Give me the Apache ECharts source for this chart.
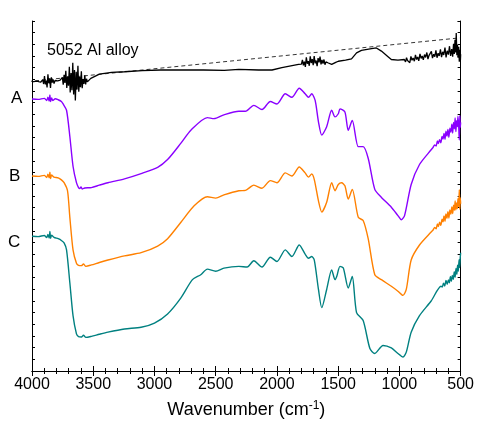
<!DOCTYPE html>
<html>
<head>
<meta charset="utf-8">
<script src="https://cdn.jsdelivr.net/npm/echarts@6/dist/echarts.min.js"></script>
<style>
  html, body { margin: 0; padding: 0; background: #fff; }
  #chart { width: 477px; height: 424px; }
</style>
</head>
<body>
<div id="chart"></div>
<script>
// 横轴刻度
const xTicks = [4000, 3500, 3000, 2500, 2000, 1500, 1000, 500];

// 5052 铝合金基底 (黑色)
const alloyData = [
  [4000, 82.6], [3960, 82.8], [3930, 82.5],
  [3912, 83.2], [3905, 82.0], [3898, 84.3], [3891, 81.9], [3884, 83.0], [3877, 81.0], [3870, 84.8],
  [3863, 82.2], [3856, 83.6], [3849, 80.9], [3842, 83.9], [3835, 82.4], [3828, 83.3], [3820, 82.1],
  [3812, 83.0], [3790, 82.9], [3770, 83.1],
  [3760, 82.6], [3752, 83.9], [3745, 81.8], [3738, 84.6], [3731, 82.3], [3724, 85.8], [3716, 80.9],
  [3709, 84.2], [3702, 81.5], [3695, 86.9], [3688, 79.6], [3681, 85.1], [3674, 80.2], [3667, 88.1],
  [3660, 79.0], [3653, 86.0], [3646, 77.3], [3639, 85.5], [3632, 80.4], [3625, 87.2], [3618, 79.8],
  [3611, 84.0], [3604, 81.1], [3597, 85.6], [3590, 80.8], [3583, 83.4], [3576, 82.0], [3569, 84.5],
  [3562, 81.9], [3555, 83.5], [3548, 82.6],
  [3520, 83.6], [3450, 84.8], [3350, 85.3], [3245, 85.5], [3100, 85.8], [2950, 86.0], [2840, 86.0],
  [2600, 86.0], [2430, 85.9], [2311, 86.2], [2150, 86.0], [2040, 86.0], [1960, 86.7], [1824, 87.6],
  [1800, 87.7], [1792, 88.9], [1784, 87.3], [1776, 88.4], [1768, 86.9], [1760, 89.6], [1752, 87.8],
  [1744, 88.5], [1736, 87.2], [1728, 89.9], [1720, 88.0], [1712, 89.1], [1704, 87.4], [1696, 90.0],
  [1688, 87.9], [1680, 88.7], [1672, 87.1], [1664, 89.4], [1656, 88.2], [1648, 89.8], [1640, 87.6],
  [1632, 88.9], [1624, 87.8], [1616, 89.0], [1608, 87.5], [1600, 88.3], [1580, 88.0],
  [1553, 87.6], [1520, 88.2], [1499, 88.5], [1440, 88.8], [1391, 89.2], [1350, 90.9], [1310, 91.6],
  [1228, 92.1], [1188, 92.3], [1147, 91.4], [1093, 89.8], [1066, 89.0], [1012, 88.8],
  [960, 89.0], [950, 88.3], [942, 89.5], [934, 88.7], [925, 89.2], [915, 88.1], [906, 89.9],
  [897, 88.8], [888, 89.4], [878, 88.5], [869, 90.3], [860, 89.0], [851, 89.7], [842, 88.6],
  [832, 90.6], [823, 89.3], [814, 90.0], [805, 88.9], [795, 90.4], [786, 89.6], [776, 91.0],
  [767, 89.1], [758, 90.2], [748, 89.7], [739, 91.3], [730, 89.4], [720, 90.5], [711, 89.8],
  [702, 91.6], [693, 89.5], [684, 90.8], [675, 90.0], [665, 91.9], [656, 89.7], [647, 91.2],
  [638, 90.3], [628, 92.4], [619, 89.6], [610, 91.5], [600, 90.4], [591, 92.8], [582, 90.0],
  [573, 92.0], [565, 89.8], [558, 93.5], [552, 90.6], [546, 94.6], [540, 91.0], [536, 96.6],
  [531, 90.2], [526, 93.2], [521, 89.5], [516, 92.6], [511, 88.4], [506, 91.8], [502, 88.8],
  [500, 90.5]
];

// 基线 (虚线)
const baselineData = [[4032, 82.7], [500, 95.2]];

// A (紫色)
const sampleA = [
  [4000, 77.7], [3950, 77.6], [3900, 77.9], [3880, 77.3], [3870, 78.2], [3860, 77.1], [3854, 78.9],
  [3848, 77.0], [3840, 78.0], [3830, 77.3], [3810, 77.8], [3786, 77.5], [3760, 77.0], [3746, 76.3],
  [3718, 74.5], [3691, 67.0], [3665, 58.5], [3637, 53.8], [3620, 52.4], [3610, 52.1], [3600, 52.6],
  [3590, 52.0], [3570, 52.3], [3515, 52.4], [3450, 53.1], [3380, 53.8], [3245, 54.9], [3109, 56.4],
  [2974, 58.2], [2893, 60.4], [2784, 65.1], [2703, 68.8], [2568, 72.4], [2514, 72.1], [2433, 73.2],
  [2311, 74.2], [2257, 74.2], [2189, 75.9], [2122, 74.7], [2054, 77.0], [2000, 76.3], [1932, 79.2],
  [1878, 78.2], [1818, 80.8], [1770, 79.2], [1742, 78.2], [1716, 79.2], [1688, 77.3], [1661, 71.2],
  [1634, 67.4], [1594, 69.8], [1553, 74.5], [1526, 72.6], [1499, 73.5], [1485, 74.9], [1445, 74.0],
  [1418, 68.8], [1385, 71.6], [1336, 64.1], [1296, 64.1], [1255, 60.8], [1201, 51.9], [1147, 49.6],
  [1066, 46.8], [1012, 44.4], [985, 43.2], [958, 44.4], [904, 53.3], [836, 59.0], [741, 63.2],
  [725, 63.9], [712, 64.6], [700, 64.3], [690, 65.7], [682, 65.0], [672, 66.1], [662, 65.2],
  [652, 67.0], [644, 66.3], [636, 67.9], [628, 66.2], [620, 68.5], [612, 67.1], [604, 69.0],
  [596, 66.8], [588, 69.4], [580, 68.2], [572, 70.5], [565, 68.0], [558, 71.0], [551, 69.2],
  [545, 72.3], [539, 68.4], [533, 71.5], [527, 69.8], [522, 72.8], [516, 70.0], [511, 66.0],
  [507, 73.0], [503, 69.6], [500, 71.0]
];

// B (橙色)
const sampleB = [
  [4000, 55.7], [3950, 55.6], [3900, 55.9], [3880, 55.3], [3870, 56.2], [3860, 55.2], [3854, 56.8],
  [3848, 55.0], [3840, 56.0], [3820, 55.4], [3786, 55.2], [3760, 54.6], [3738, 53.8], [3710, 51.5],
  [3691, 43.9], [3665, 34.6], [3637, 30.8], [3620, 30.2], [3596, 30.1], [3580, 30.6], [3560, 29.9],
  [3515, 30.3], [3450, 31.0], [3380, 31.7], [3245, 32.9], [3109, 33.8], [2974, 35.7], [2893, 37.8],
  [2784, 42.5], [2676, 47.2], [2568, 49.8], [2500, 49.4], [2433, 50.3], [2311, 51.5], [2257, 51.6],
  [2189, 53.1], [2122, 52.2], [2054, 54.4], [2000, 53.8], [1932, 56.6], [1878, 55.7], [1818, 58.3],
  [1770, 56.6], [1742, 55.4], [1716, 56.3], [1695, 54.7], [1661, 48.6], [1634, 45.4], [1594, 48.2],
  [1553, 53.8], [1526, 51.5], [1499, 53.3], [1472, 53.8], [1445, 52.9], [1418, 49.1], [1385, 51.9],
  [1336, 43.9], [1296, 43.0], [1255, 37.8], [1201, 27.5], [1147, 26.1], [1066, 24.2], [1012, 22.8],
  [971, 21.6], [944, 23.3], [904, 31.7], [836, 36.0], [741, 39.7],
  [725, 40.3], [712, 41.0], [700, 40.6], [690, 42.0], [682, 41.3], [672, 42.5], [662, 41.6],
  [652, 43.4], [644, 42.6], [636, 44.3], [628, 42.8], [620, 44.9], [612, 43.6], [604, 45.5],
  [596, 43.7], [588, 46.0], [580, 44.8], [572, 46.9], [565, 45.0], [558, 47.4], [551, 45.9],
  [545, 48.6], [539, 46.0], [533, 48.0], [527, 46.4], [522, 49.2], [516, 47.0], [511, 51.8],
  [507, 46.2], [503, 49.5], [500, 47.8]
];

// C (青色)
const sampleC = [
  [4000, 38.5], [3950, 38.4], [3900, 38.7], [3880, 38.1], [3870, 39.0], [3860, 38.0], [3854, 39.9],
  [3848, 37.9], [3840, 38.8], [3820, 38.2], [3786, 37.8], [3760, 37.3], [3738, 36.6], [3718, 34.6],
  [3691, 25.2], [3665, 15.8], [3637, 10.6], [3620, 9.8], [3596, 9.7], [3580, 10.2], [3560, 9.6],
  [3515, 9.9], [3450, 10.5], [3380, 11.1], [3245, 12.0], [3109, 12.5], [3000, 13.7], [2893, 16.3],
  [2784, 20.9], [2690, 26.1], [2622, 27.5], [2568, 29.1], [2500, 28.5], [2433, 29.4], [2311, 29.9],
  [2243, 29.7], [2189, 31.5], [2122, 29.7], [2054, 32.5], [2000, 31.3], [1932, 34.6], [1878, 32.7],
  [1818, 36.0], [1770, 33.4], [1742, 32.2], [1716, 32.7], [1695, 31.7], [1661, 23.3], [1634, 18.1],
  [1594, 23.3], [1553, 28.9], [1526, 26.1], [1512, 27.0], [1485, 29.9], [1458, 29.4], [1418, 23.7],
  [1385, 27.0], [1350, 16.7], [1296, 14.4], [1241, 6.4], [1201, 5.0], [1134, 7.3], [1066, 6.6],
  [1012, 5.0], [971, 4.0], [944, 5.4], [904, 11.1], [836, 15.8], [741, 20.0], [660, 24.2],
  [650, 24.0], [640, 25.1], [630, 24.3], [620, 25.9], [610, 24.8], [600, 26.0], [592, 25.2],
  [584, 27.0], [576, 25.6], [568, 27.3], [560, 26.2], [552, 28.4], [545, 26.8], [538, 29.3],
  [531, 27.6], [525, 30.2], [519, 28.5], [513, 31.8], [508, 29.6], [503, 32.6], [500, 33.8]
];

const FONT = 'Liberation Sans, Arial, sans-serif';

const chart = echarts.init(document.getElementById('chart'));

function lineSeries(data, color, extra) {
  return Object.assign({
    type: 'line',
    data: data,
    showSymbol: false,
    smooth: 0.25,
    lineStyle: { color: color, width: 1.4 },
    itemStyle: { color: color },
    animation: false
  }, extra || {});
}

const option = {
  animation: false,
  grid: { left: 32, right: 14, top: 21, bottom: 48 },
  xAxis: [{
    type: 'value',
    inverse: true,
    min: 500,
    max: 4000,
    interval: 500,
    position: 'bottom',
    axisLine: { lineStyle: { color: '#000', width: 1 } },
    axisTick: { length: 5, lineStyle: { color: '#000' } },
    minorTick: { show: true, splitNumber: 5, length: 3, lineStyle: { color: '#000' } },
    axisLabel: {
      color: '#000', fontSize: 16, fontFamily: FONT, margin: 6,
      formatter: v => xTicks.indexOf(v) >= 0 ? String(v) : ''
    },
    splitLine: { show: false },
    name: 'Wavenumber (cm{sup|-1})',
    nameLocation: 'middle',
    nameGap: 29,
    nameTextStyle: {
      color: '#000', fontSize: 18, fontFamily: FONT,
      rich: { sup: { fontSize: 12, fontFamily: FONT, color: '#000', verticalAlign: 'top', padding: [0, 0, 8, 0] } }
    }
  }, {
    type: 'value',
    inverse: true,
    min: 500,
    max: 4000,
    interval: 500,
    position: 'top',
    axisLine: { lineStyle: { color: '#000', width: 1 } },
    axisTick: { length: 5, lineStyle: { color: '#000' } },
    minorTick: { show: true, splitNumber: 5, length: 3, lineStyle: { color: '#000' } },
    axisLabel: { show: false },
    splitLine: { show: false }
  }],
  yAxis: [{
    type: 'value',
    min: 0,
    max: 100,
    interval: 100 / 30,
    position: 'left',
    axisLine: { show: true, lineStyle: { color: '#000', width: 1 } },
    axisTick: { show: true, inside: true, length: 3, lineStyle: { color: '#000' } },
    axisLabel: { show: false },
    splitLine: { show: false }
  }, {
    type: 'value',
    min: 0,
    max: 100,
    interval: 100 / 30,
    position: 'right',
    axisLine: { show: true, lineStyle: { color: '#000', width: 1 } },
    axisTick: { show: true, inside: true, length: 3, lineStyle: { color: '#000' } },
    axisLabel: { show: false },
    splitLine: { show: false }
  }],
  graphic: [
    { type: 'text', left: 47, top: 43, style: { text: '5052 Al alloy', fontSize: 16, fontFamily: FONT, fill: '#000' } },
    { type: 'text', left: 11, top: 90, style: { text: 'A', fontSize: 17, fontFamily: FONT, fill: '#000' } },
    { type: 'text', left: 9, top: 168, style: { text: 'B', fontSize: 17, fontFamily: FONT, fill: '#000' } },
    { type: 'text', left: 8, top: 234, style: { text: 'C', fontSize: 17, fontFamily: FONT, fill: '#000' } }
  ],
  series: [
    lineSeries(baselineData, '#000', { smooth: false, clip: false, lineStyle: { color: '#000', width: 0.8, type: [4, 3] } }),
    lineSeries(alloyData, '#000', { smooth: false, lineStyle: { color: '#000', width: 1.3 } }),
    lineSeries(sampleA, '#8a00ff'),
    lineSeries(sampleB, '#ff8000'),
    lineSeries(sampleC, '#008080')
  ]
};

chart.setOption(option);
</script>
</body>
</html>
